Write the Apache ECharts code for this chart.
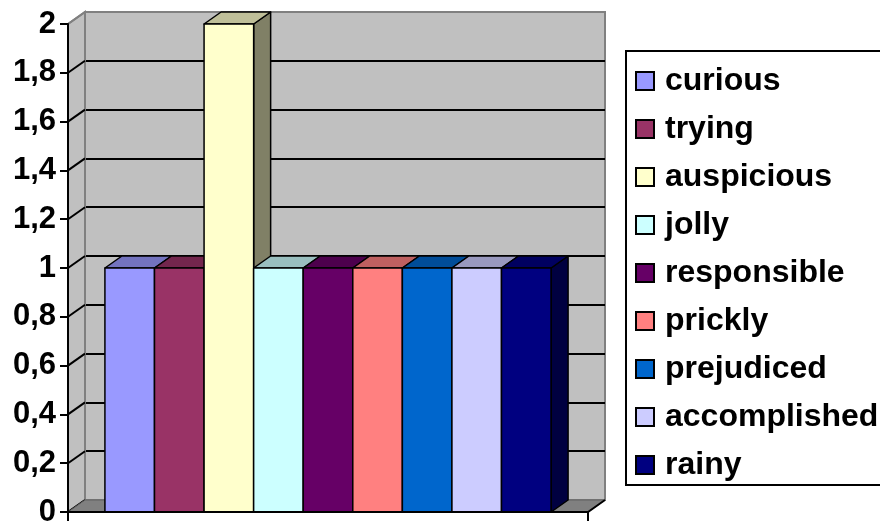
<!DOCTYPE html>
<html>
<head>
<meta charset="utf-8">
<script src="https://cdn.jsdelivr.net/npm/echarts@6/dist/echarts.min.js"></script>
<style>
  html, body { margin: 0; padding: 0; background: #fff; }
  #chart { width: 880px; height: 522px; }
</style>
</head>
<body>
<div id="chart"></div>
<script>
// Series names, their values and fill colours
const seriesNames = ['curious', 'trying', 'auspicious', 'jolly', 'responsible', 'prickly', 'prejudiced', 'accomplished', 'rainy'];
const seriesValues = [1, 1, 2, 1, 1, 1, 1, 1, 1];
const seriesColors = ['#9999FF', '#993366', '#FFFFCC', '#CCFFFF', '#660066', '#FF8080', '#0066CC', '#CCCCFF', '#000080'];
const categories = [''];
const yMin = 0, yMax = 2, yStep = 0.2;

// 3D depth of the plot box (pixels)
const DX = 17, DY = 12;
const CLUSTER = 0.858;
const FONT = '"Liberation Sans", Arial, sans-serif';

function shade(hex, k) {
  const n = parseInt(hex.slice(1), 16);
  const r = Math.round(((n >> 16) & 255) * k);
  const g = Math.round(((n >> 8) & 255) * k);
  const b = Math.round((n & 255) * k);
  return 'rgb(' + r + ',' + g + ',' + b + ')';
}

function fmt(v) {
  return String(Number(v.toFixed(1))).replace('.', ',');
}

const tickValues = [];
for (let v = yMin; v <= yMax + 1e-9; v += yStep) tickValues.push(Number(v.toFixed(1)));

// side wall + floor
function renderWalls(params, api) {
  const cs = params.coordSys;
  const x = cs.x, y = cs.y, w = cs.width, h = cs.height;
  const children = [];
  children.push({
    type: 'polygon',
    shape: { points: [[x, y + h], [x + DX, y + h - DY], [x + DX, y - DY], [x, y]] },
    style: { fill: '#C0C0C0', stroke: '#808080', lineWidth: 2 }
  });
  tickValues.forEach(function (v) {
    const yy = api.coord([0, v])[1];
    if (v === yMax) return;
    children.push({
      type: 'line',
      shape: { x1: x, y1: yy, x2: x + DX, y2: yy - DY },
      style: { stroke: '#000', lineWidth: 2 }
    });
  });
  children.push({
    type: 'polygon',
    shape: { points: [[x, y + h], [x + w, y + h], [x + w + DX, y + h - DY], [x + DX, y + h - DY]] },
    style: { fill: '#808080', stroke: '#606060', lineWidth: 1 }
  });
  children.push({
    type: 'polyline',
    shape: { points: [[x, y + h], [x + w, y + h], [x + w + DX, y + h - DY]] },
    style: { stroke: '#000', lineWidth: 2, fill: null }
  });
  children.push({
    type: 'line',
    shape: { x1: x, y1: y, x2: x + DX, y2: y - DY },
    style: { stroke: '#808080', lineWidth: 2 }
  });
  return { type: 'group', children: children };
}

function makeBarRenderer(idx) {
  return function (params, api) {
    const cat = api.value(0);
    const val = api.value(1);
    const center = api.coord([cat, 0]);
    const catW = api.size([1, 0])[0];
    const barW = catW * CLUSTER / seriesNames.length;
    const x0 = center[0] - catW * CLUSTER / 2 + idx * barW;
    const x1 = x0 + barW;
    const yb = center[1];
    const yt = api.coord([cat, val])[1];
    const col = seriesColors[idx];
    const line = { stroke: '#000', lineWidth: 1.5, lineJoin: 'round' };
    return {
      type: 'group',
      children: [
        {
          type: 'polygon',
          shape: { points: [[x1, yb], [x1 + DX, yb - DY], [x1 + DX, yt - DY], [x1, yt]] },
          style: Object.assign({ fill: shade(col, 0.5) }, line)
        },
        {
          type: 'polygon',
          shape: { points: [[x0, yt], [x0 + DX, yt - DY], [x1 + DX, yt - DY], [x1, yt]] },
          style: Object.assign({ fill: shade(col, 0.75) }, line)
        },
        {
          type: 'rect',
          shape: { x: x0, y: yt, width: barW, height: yb - yt },
          style: Object.assign({ fill: col }, line)
        }
      ]
    };
  };
}

const chart = echarts.init(document.getElementById('chart'), null, { renderer: 'canvas' });

const series = [{
  type: 'custom',
  name: '__walls',
  xAxisIndex: 0,
  yAxisIndex: 0,
  renderItem: renderWalls,
  data: [[0, 0]],
  silent: true,
  z: 1
}];
seriesNames.forEach(function (name, i) {
  series.push({
    type: 'custom',
    name: name,
    xAxisIndex: 0,
    yAxisIndex: 0,
    renderItem: makeBarRenderer(i),
    itemStyle: { color: seriesColors[i] },
    data: [[0, seriesValues[i]]],
    z: 2
  });
});

chart.setOption({
  animation: false,
  backgroundColor: '#fff',
  grid: [
    { left: 68, top: 24, width: 520, height: 488, containLabel: false, outerBoundsMode: 'none' },
    {
      left: 68 + DX, top: 24 - DY, width: 520, height: 488, outerBoundsMode: 'none',
      show: true, backgroundColor: '#C0C0C0', borderColor: '#808080', borderWidth: 2, z: 0
    }
  ],
  xAxis: [
    {
      type: 'category', gridIndex: 0, data: categories, boundaryGap: true,
      axisLine: { show: true, lineStyle: { color: '#000', width: 2 } },
      axisTick: { show: true, length: 9, lineStyle: { color: '#000', width: 2 } },
      axisLabel: { show: false },
      splitLine: { show: false },
      z: 5
    },
    {
      type: 'category', gridIndex: 1, data: categories, show: false
    }
  ],
  yAxis: [
    {
      type: 'value', gridIndex: 0, min: yMin, max: yMax, interval: yStep,
      axisLine: { show: true, lineStyle: { color: '#000', width: 2 } },
      axisTick: { show: true, length: 8, lineStyle: { color: '#000', width: 2 } },
      axisLabel: {
        margin: 12, color: '#000', fontFamily: FONT, fontWeight: 'bold', fontSize: 31,
        formatter: fmt
      },
      splitLine: { show: false },
      z: 5
    },
    {
      type: 'value', gridIndex: 1, min: yMin, max: yMax, interval: yStep,
      axisLine: { show: false }, axisTick: { show: false }, axisLabel: { show: false },
      splitLine: { show: true, showMinLine: false, showMaxLine: false, lineStyle: { color: '#000', width: 2 } }
    }
  ],
  legend: {
    data: seriesNames,
    orient: 'vertical',
    left: 626,
    top: 51,
    padding: [14, 40, 4, 9],
    itemGap: 16,
    itemWidth: 18,
    itemHeight: 18,
    icon: 'rect',
    selectedMode: false,
    backgroundColor: '#fff',
    borderColor: '#000',
    borderWidth: 2,
    borderRadius: 0,
    itemStyle: { borderColor: '#000', borderWidth: 2 },
    textStyle: {
      color: '#000', fontFamily: FONT, fontWeight: 'bold', fontSize: 32, lineHeight: 30,
      padding: [0, 0, 0, 6]
    }
  },
  series: series
});
</script>
</body>
</html>
